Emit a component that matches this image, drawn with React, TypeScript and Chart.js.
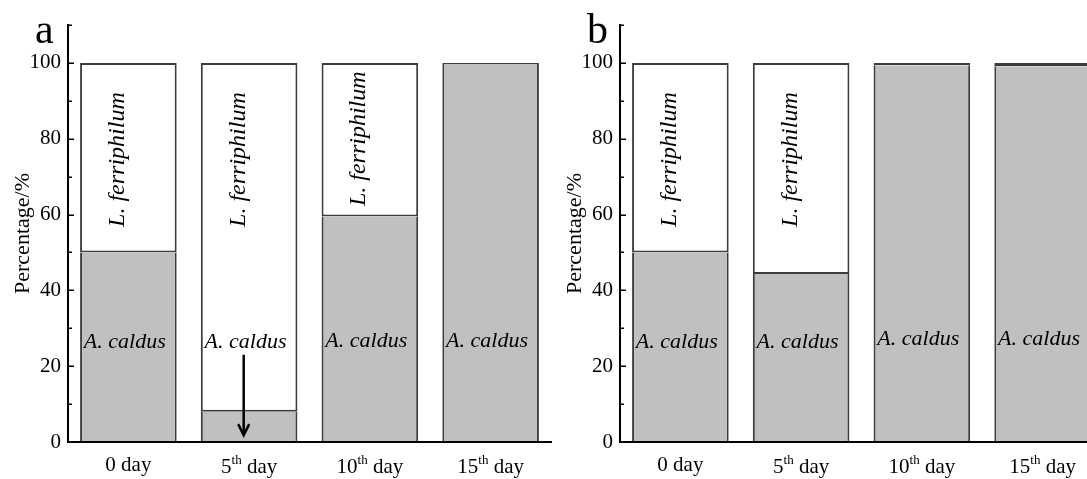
import React, { useEffect, useRef } from 'react';
import { Chart, registerables } from 'chart.js';

Chart.register(...registerables);

// ---------- data ----------
const categories = ['0 day', '5th day', '10th day', '15th day'];
const caldusA = [50, 8, 59.5, 99.7];
const ferriA = [50, 92, 40.5, 0.3];
const caldusB = [50, 44.3, 99.4, 99.1];
const ferriB = [50, 55.7, 0.6, 0.9];
const yTicks = [0, 20, 40, 60, 80, 100];
const yMinorTicks = [10, 30, 50, 70, 90, 110];
const yMax = 110;
const ferriLabelYA = [74.5, 74.5, 80, null];
const ferriLabelYB = [74.5, 74.5, null, null];
const caldusLabelYA = [26.3, 26.3, 26.5, 26.5];
const caldusLabelYB = [26.3, 26.3, 27.2, 27.2];
const arrowA = { index: 1, from: 23, to: 1.8 };
const speciesNames = ['A. caldus', 'L. ferriphilum'];
const yTitle = 'Percentage/%';

const serif = "'Liberation Serif', 'Times New Roman', serif";

type PanelSpec = {
  letter: string;
  caldus: number[];
  ferri: number[];
  ferriY: (number | null)[];
  caldusY: (number | null)[];
  arrow: { index: number; from: number; to: number } | null;
  left: number;
};

const panels: PanelSpec[] = [
  { letter: 'a', caldus: caldusA, ferri: ferriA, ferriY: ferriLabelYA, caldusY: caldusLabelYA, arrow: arrowA, left: 0 },
  { letter: 'b', caldus: caldusB, ferri: ferriB, ferriY: ferriLabelYB, caldusY: caldusLabelYB, arrow: null, left: 552 },
];

function makeOverlay(p: PanelSpec) {
  return {
    id: 'overlay-' + p.letter,
    afterDatasetsDraw(chart: any) {
      const ctx = chart.ctx as CanvasRenderingContext2D;
      const x = chart.scales.x;
      const y = chart.scales.y;
      const cw = x.getPixelForValue(1) - x.getPixelForValue(0);
      ctx.save();
      ctx.fillStyle = '#000';
      ctx.textAlign = 'center';
      ctx.textBaseline = 'middle';
      ctx.font = `italic 24px ${serif}`;
      p.ferriY.forEach((v, i) => {
        if (v == null) return;
        const px = x.getPixelForValue(i) - 0.09 * cw;
        const py = y.getPixelForValue(v);
        ctx.save();
        ctx.translate(px, py);
        ctx.rotate(-Math.PI / 2);
        ctx.fillText(speciesNames[1], 0, 0);
        ctx.restore();
      });
      ctx.font = `italic 22px ${serif}`;
      p.caldusY.forEach((v, i) => {
        if (v == null) return;
        const px = x.getPixelForValue(i) - 0.03 * cw;
        const py = y.getPixelForValue(v);
        ctx.fillText(speciesNames[0], px, py);
      });
      if (p.arrow) {
        const ax = x.getPixelForValue(p.arrow.index) - 0.045 * cw;
        const y0 = y.getPixelForValue(p.arrow.from);
        const y1 = y.getPixelForValue(p.arrow.to);
        ctx.strokeStyle = '#000';
        ctx.lineWidth = 2.5;
        ctx.beginPath();
        ctx.moveTo(ax, y0);
        ctx.lineTo(ax, y1);
        ctx.stroke();
        ctx.beginPath();
        ctx.moveTo(ax - 5.5, y1 - 11);
        ctx.lineTo(ax, y1);
        ctx.lineTo(ax + 5.5, y1 - 11);
        ctx.stroke();
      }
      ctx.restore();
    },
    afterDraw(chart: any) {
      const ctx = chart.ctx as CanvasRenderingContext2D;
      const x = chart.scales.x;
      const y = chart.scales.y;
      const area = chart.chartArea;
      ctx.save();
      // inward y ticks
      ctx.strokeStyle = '#000';
      ctx.lineWidth = 1.5;
      const ax = area.left;
      yTicks.forEach((v) => {
        const py = Math.round(y.getPixelForValue(v)) + 0.25;
        ctx.beginPath();
        ctx.moveTo(ax, py);
        ctx.lineTo(ax + 6, py);
        ctx.stroke();
      });
      yMinorTicks.forEach((v) => {
        const py = Math.round(y.getPixelForValue(v)) + 0.25;
        ctx.beginPath();
        ctx.moveTo(ax, py);
        ctx.lineTo(ax + 4, py);
        ctx.stroke();
      });
      // x category labels with superscript ordinals
      ctx.fillStyle = '#000';
      ctx.textBaseline = 'alphabetic';
      ctx.textAlign = 'left';
      const base = area.bottom + 29;
      categories.forEach((lab, i) => {
        const m = lab.match(/^(\d+)(st|nd|rd|th)?(.*)$/);
        const num = m ? m[1] : lab;
        const sup = m && m[2] ? m[2] : '';
        const rest = m ? m[3] : '';
        const mainFont = `21px ${serif}`;
        const supFont = `13px ${serif}`;
        ctx.font = mainFont;
        const w1 = ctx.measureText(num).width;
        const w3 = ctx.measureText(rest).width;
        ctx.font = supFont;
        const w2 = sup ? ctx.measureText(sup).width : 0;
        const cx = x.getPixelForValue(i);
        let sx = cx - (w1 + w2 + w3) / 2;
        const bl = base + (sup ? 1.5 : 0);
        ctx.font = mainFont;
        ctx.fillText(num, sx, bl);
        sx += w1;
        if (sup) {
          ctx.font = supFont;
          ctx.fillText(sup, sx, bl - 9);
          sx += w2;
        }
        ctx.font = mainFont;
        ctx.fillText(rest, sx, bl);
      });
      // panel letter
      ctx.font = `42px ${serif}`;
      ctx.fillText(p.letter, area.left - 33, y.getPixelForValue(yMax) + 18);
      ctx.restore();
    },
  };
}

function buildConfig(p: PanelSpec): any {
  return {
    type: 'bar',
    data: {
      labels: categories,
      datasets: [
        {
          label: speciesNames[0],
          data: p.caldus,
          backgroundColor: '#c0c0c0',
          borderColor: '#3c3c3c',
          borderWidth: { left: 2, right: 2, top: 0, bottom: 0 },
          borderSkipped: false,
          barPercentage: 0.8,
          categoryPercentage: 1,
        },
        {
          label: speciesNames[1],
          data: p.ferri,
          backgroundColor: '#ffffff',
          borderColor: '#3c3c3c',
          borderWidth: 2,
          borderSkipped: false,
          barPercentage: 0.8,
          categoryPercentage: 1,
        },
      ],
    },
    options: {
      responsive: false,
      animation: false,
      layout: { padding: { top: 25, right: 9, left: 0, bottom: 0 } },
      plugins: {
        legend: { display: false },
        tooltip: { enabled: false },
        title: { display: false },
      },
      scales: {
        x: {
          stacked: true,
          offset: true,
          grid: { display: false, drawTicks: false },
          border: { display: true, color: '#000', width: 2, z: 1 },
          ticks: { display: false },
          afterFit: (s: any) => {
            s.height = 37;
          },
        },
        y: {
          stacked: true,
          min: 0,
          max: yMax,
          afterBuildTicks: (s: any) => {
            s.ticks = yTicks.map((v) => ({ value: v }));
          },
          grid: { display: false, drawTicks: false },
          border: { display: true, color: '#000', width: 2, z: 1 },
          ticks: {
            padding: 7,
            color: '#000',
            font: { family: serif, size: 21 },
          },
          title: {
            display: true,
            text: yTitle,
            color: '#000',
            font: { family: serif, size: 22 },
            padding: { top: 10, bottom: 0 },
          },
          afterFit: (s: any) => {
            s.width = 68;
          },
        },
      },
    },
    plugins: [makeOverlay(p)],
  };
}

function Panel({ spec }: { spec: PanelSpec }) {
  const ref = useRef<HTMLCanvasElement>(null);
  useEffect(() => {
    const chart = new Chart(ref.current as HTMLCanvasElement, buildConfig(spec));
    return () => chart.destroy();
  }, [spec]);
  return (
    <canvas
      ref={ref}
      width={560}
      height={479}
      style={{ position: 'absolute', left: spec.left, top: 0, display: 'block' }}
    />
  );
}

export default function App() {
  return (
    <div
      style={{
        position: 'absolute',
        left: 0,
        top: 0,
        width: 1087,
        height: 479,
        overflow: 'hidden',
        background: '#fff',
      }}
    >
      {panels.map((p) => (
        <Panel key={p.letter} spec={p} />
      ))}
    </div>
  );
}
